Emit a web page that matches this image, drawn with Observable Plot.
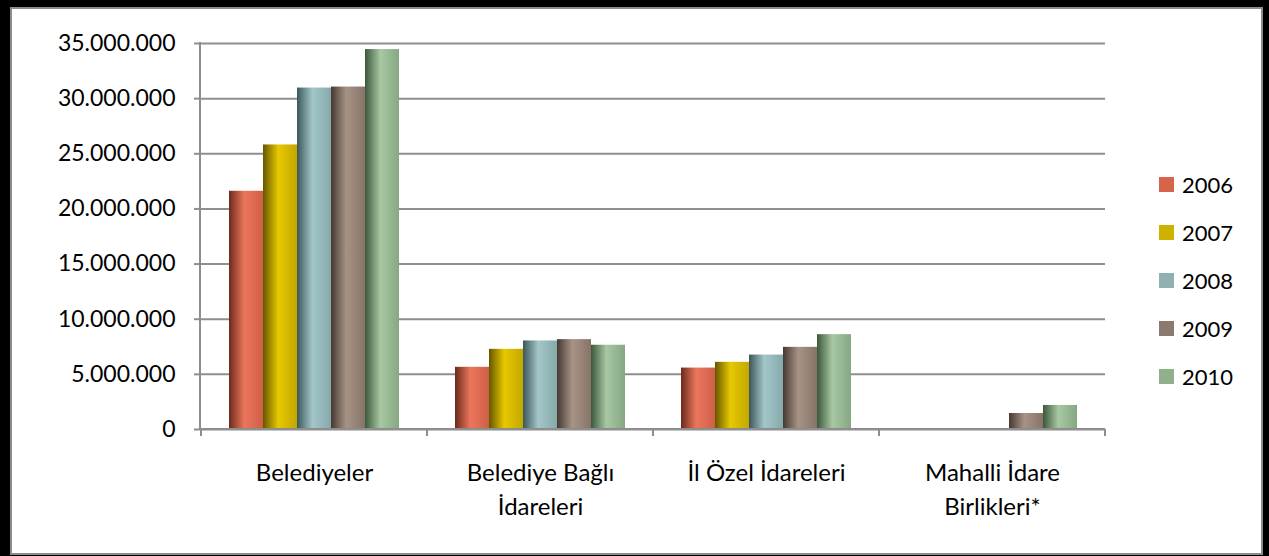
<!DOCTYPE html>
<html>
<head>
<meta charset="utf-8">
<script src="https://cdn.jsdelivr.net/npm/d3@7"></script>
<script src="https://cdn.jsdelivr.net/npm/@observablehq/plot@0.6"></script>
<style>
  html, body { margin: 0; padding: 0; background: #000; }
  #page { position: relative; width: 1269px; height: 556px; background: #000; overflow: hidden; font-family: Lato, "Open Sans", sans-serif; }
  #panel { position: absolute; left: 10px; top: 7px; width: 1253px; height: 548px; box-sizing: border-box; border: 2px solid #8c8c8c; background: #fff; }
  #chart { position: absolute; left: 0; top: 0; }
  #legend { position: absolute; left: 1159px; top: 160px; }
  .item { display: flex; align-items: center; height: 48.2px; font-size: 22px; color: #000; }
  .sw { width: 15px; height: 15px; margin-right: 8px; }
</style>
</head>
<body>
<div id="page">
  <div id="panel"></div>
  <svg width="0" height="0" style="position:absolute">
    <defs id="grads"></defs>
  </svg>
  <div id="chart"></div>
  <div id="legend"></div>
</div>
<script>
const categories = ["Belediyeler", "Belediye Bağlı\nİdareleri", "İl Özel İdareleri", "Mahalli İdare\nBirlikleri*"];
const years = ["2006", "2007", "2008", "2009", "2010"];
const v2006 = [21600000, 5640000, 5570000, null];
const v2007 = [25800000, 7270000, 6090000, null];
const v2008 = [30960000, 8030000, 6750000, null];
const v2009 = [31050000, 8150000, 7450000, 1450000];
const v2010 = [34450000, 7640000, 8600000, 2180000];
const yTicks = [0, 5000000, 10000000, 15000000, 20000000, 25000000, 30000000, 35000000];
const swatchColors = ["#d6644a", "#cdb300", "#8fb1b2", "#8c7a6f", "#8fb08a"];
// gradient stops per year: dark edge, highlight, right tone
const gradStops = [
  ["#6a2a1c", "#ec765c", "#cf5f48"],
  ["#665600", "#e6c900", "#c4a700"],
  ["#3b5758", "#a3c6c8", "#86aaac"],
  ["#463932", "#a79386", "#877469"],
  ["#3c573b", "#a7c8a3", "#85a781"]
];

const series = [v2006, v2007, v2008, v2009, v2010];
const data = [];
categories.forEach((c, i) => {
  years.forEach((y, j) => {
    const v = series[j][i];
    if (v != null) data.push({category: c, year: y, value: v});
  });
});

// gradients
const defs = d3.select("#grads");
years.forEach((y, j) => {
  const g = defs.append("linearGradient").attr("id", "g" + y).attr("x1", "0").attr("x2", "1").attr("y1", "0").attr("y2", "0");
  g.append("stop").attr("offset", "0%").attr("stop-color", gradStops[j][0]);
  g.append("stop").attr("offset", "45%").attr("stop-color", gradStops[j][1]);
  g.append("stop").attr("offset", "100%").attr("stop-color", gradStops[j][2]);
});

const locale = d3.formatLocale({decimal: ",", thousands: ".", grouping: [3], currency: ["", ""]});
const fmt = locale.format(",");
const gridColor = "#8e8e8e";
const W = 1269, H = 556, ML = 200, MR = 164, MT = 43, MB = 127;

const chart = Plot.plot({
  width: W,
  height: H,
  marginLeft: ML,
  marginRight: MR,
  marginTop: MT,
  marginBottom: MB,
  style: {background: "transparent", fontFamily: "Lato, 'Open Sans', sans-serif", fontSize: "22px", color: "#000"},
  fx: {domain: categories, padding: 0},
  x: {domain: years, paddingInner: 0, paddingOuter: 0.755, axis: null},
  y: {domain: [0, 35000000], range: [H - MB, MT]},
  color: {domain: years, range: years.map(y => `url(#g${y})`)},
  marks: [
    Plot.gridY(yTicks, {stroke: gridColor, strokeOpacity: 1, strokeWidth: 2}),
    Plot.barY(data, {fx: "category", x: "year", y: "value", fill: "year"}),
    Plot.axisY(yTicks, {tickFormat: fmt, tickSize: 7, tickPadding: 19, stroke: gridColor, strokeWidth: 2, fontSize: 23, label: null}),
    Plot.axisFx({anchor: "bottom", tickSize: 0, tickPadding: 28, fontSize: 24, lineHeight: 1.39, label: null})
  ]
});
document.getElementById("chart").appendChild(chart);

// axis lines and category boundary ticks, placed with the plot's own scales
const ys = chart.scale("y");
const fxs = chart.scale("fx");
const y0 = ys.apply(0);
const yTop = ys.apply(35000000);
const svg = d3.select(chart);
const g = svg.append("g").attr("stroke", gridColor).attr("stroke-width", 2).attr("fill", "none");
g.append("line").attr("x1", ML).attr("x2", ML).attr("y1", yTop - 1).attr("y2", y0);
g.append("line").attr("x1", ML).attr("x2", W - MR).attr("y1", y0).attr("y2", y0);
const bounds = categories.map(c => fxs.apply(c)).concat([fxs.apply(categories[categories.length - 1]) + fxs.bandwidth]);
bounds.forEach(x => {
  g.append("line").attr("x1", x).attr("x2", x).attr("y1", y0).attr("y2", y0 + 7);
});

const legend = d3.select("#legend");
years.forEach((y, j) => {
  const it = legend.append("div").attr("class", "item");
  it.append("div").attr("class", "sw").style("background", swatchColors[j]);
  it.append("span").text(y);
});
</script>
</body>
</html>
